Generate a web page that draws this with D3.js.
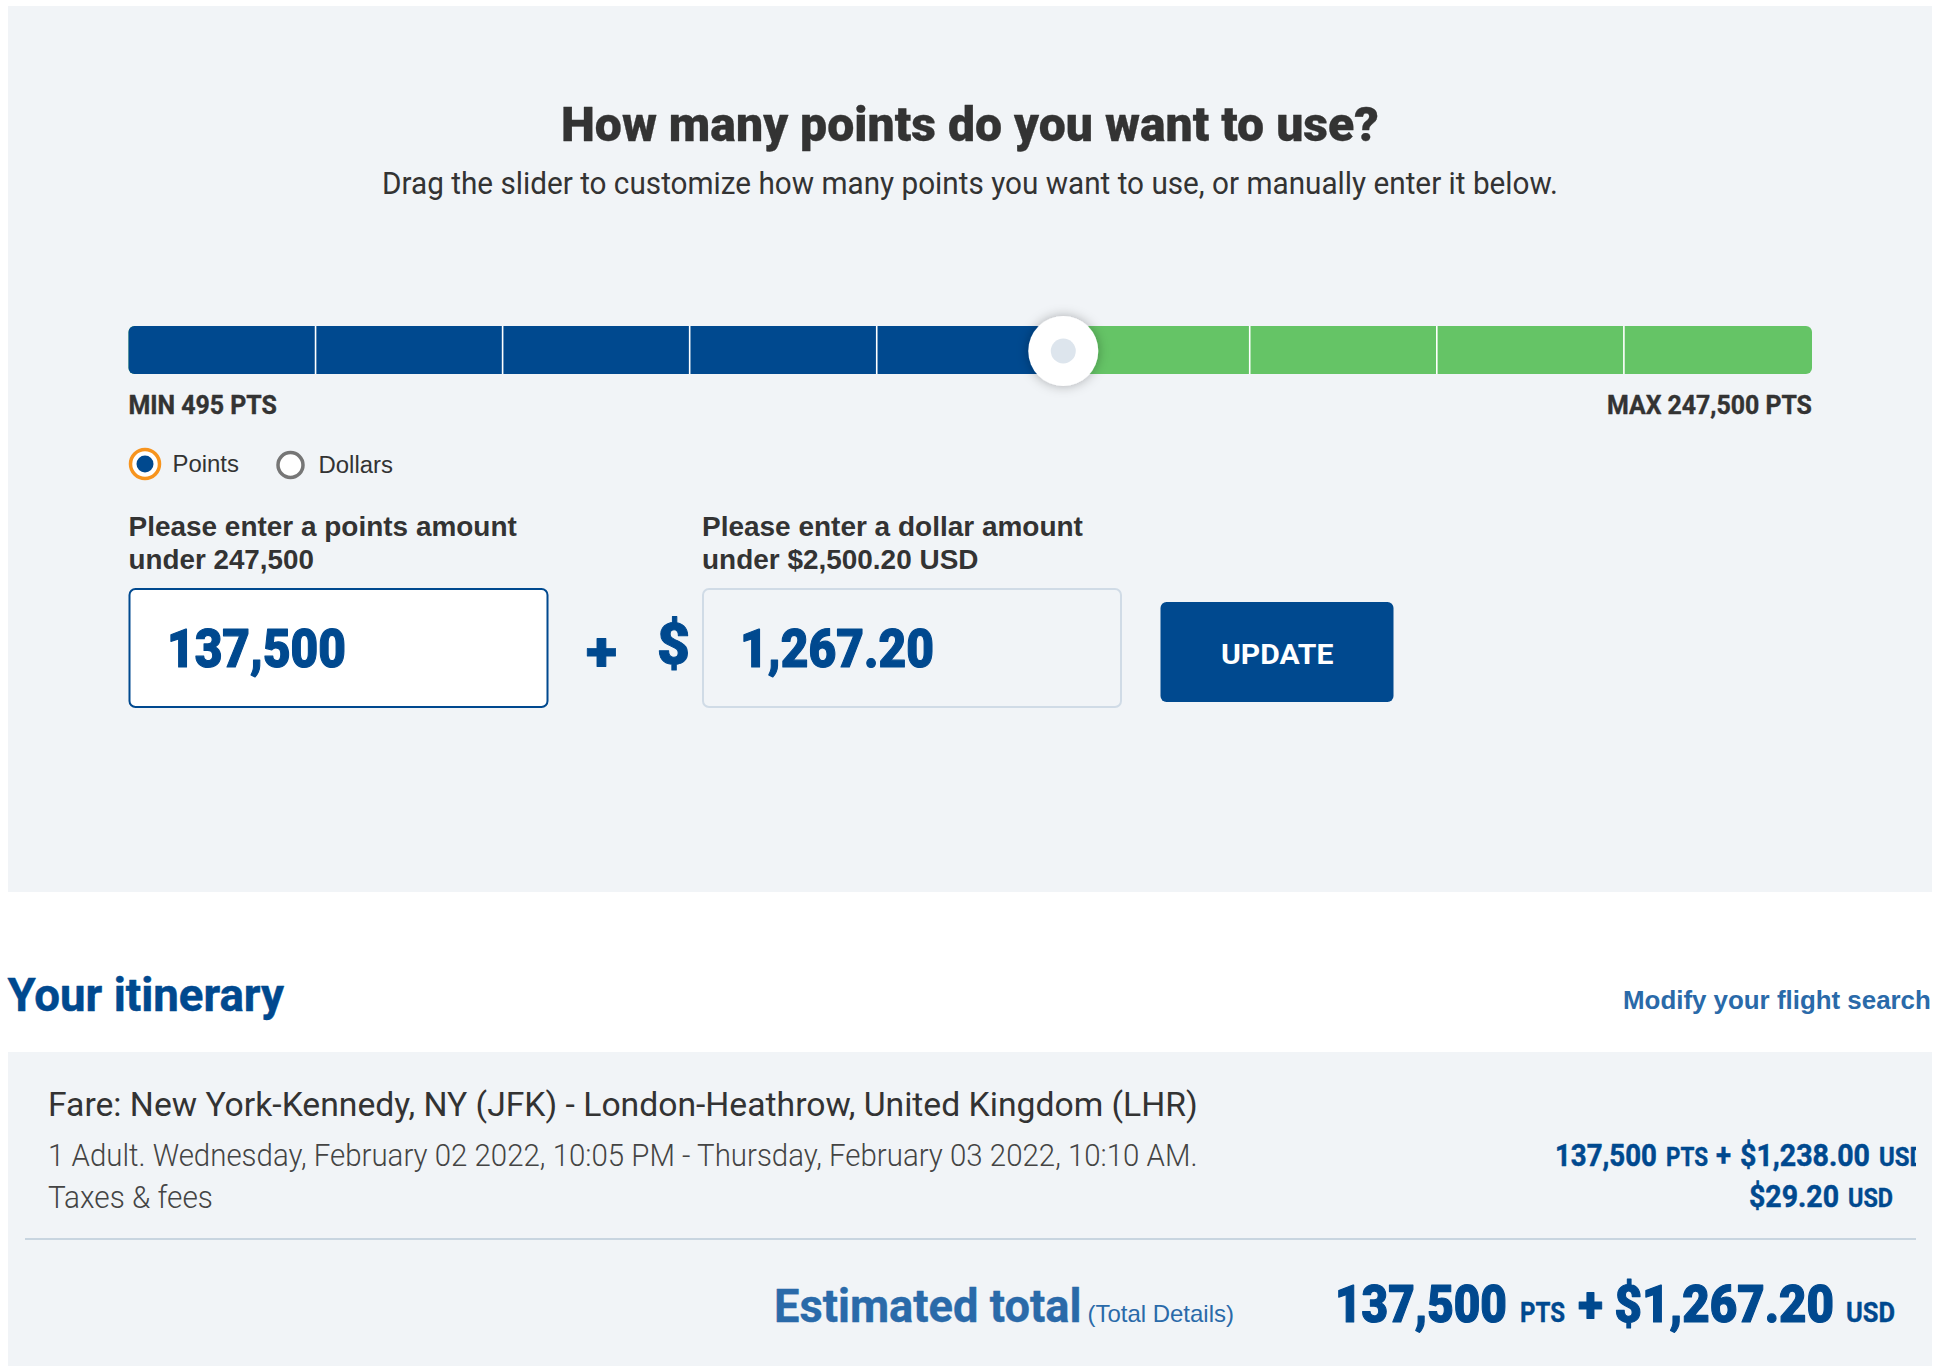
<!DOCTYPE html>
<html><head><meta charset="utf-8">
<script src="https://cdn.jsdelivr.net/npm/d3@7"></script>
<style>html,body{margin:0;padding:0;background:#fff}svg{display:block}</style></head>
<body><div id="c"></div>
<script>
const minPoints = 495;
const maxPoints = 247500;
const selectedPoints = 137500;
const sliderTicks = [27940, 55385, 82830, 110275, 165000, 192450, 219900];
const heading = ["How many points do you want to use?", "Drag the slider to customize how many points you want to use, or manually enter it below."];
const rangeLabels = ["MIN 495 PTS", "MAX 247,500 PTS"];
const radioLabels = ["Points", "Dollars"];
const pointsPrompt = ["Please enter a points amount", "under 247,500"];
const dollarPrompt = ["Please enter a dollar amount", "under $2,500.20 USD"];
const inputValues = ["137,500", "1,267.20"];
const itinerary = ["Your itinerary", "Modify your flight search"];
const fareLines = ["Fare: New York-Kennedy, NY (JFK) - London-Heathrow, United Kingdom (LHR)",
  "1 Adult. Wednesday, February 02 2022, 10:05 PM - Thursday, February 03 2022, 10:10 AM.",
  "Taxes & fees"];

const BLUE="#00498f", GREEN="#65c466", PANEL="#f1f4f7", DARK="#333333", LINK="#2a6aa9", DIN="Roboto", ARIAL="'Liberation Sans'";
const svg=d3.select("#c").append("svg").attr("width",1938).attr("height",1372);
const defs=svg.append("defs");
const f=defs.append("filter").attr("id","sh").attr("x","-50%").attr("y","-50%").attr("width","200%").attr("height","200%");
f.append("feDropShadow").attr("dx",0).attr("dy",0).attr("stdDeviation",6).attr("flood-color","#000").attr("flood-opacity",0.3);
defs.append("clipPath").attr("id","rowclip").append("rect").attr("x",0).attr("y",1100).attr("width",1916).attr("height",120);

function T(s,x0,x1,y,size,weight,fam,fill,heavy,parent){
  const t=(parent||svg).append("text").text(s)
    .attr("font-size",size).attr("font-weight",weight).attr("font-family",fam).attr("fill",fill);
  if(heavy) t.attr("stroke",fill).attr("stroke-width",heavy).attr("stroke-linejoin","round");
  const w=t.node().getComputedTextLength();
  t.attr("transform",`translate(${x0},${y}) scale(${(x1-x0)/w},1)`);
  return t;
}
function R(x,y,w,h,fill,stroke,sw,rx){
  return svg.append("rect").attr("x",x).attr("y",y).attr("width",w).attr("height",h).attr("fill",fill)
    .attr("stroke",stroke||"none").attr("stroke-width",sw||0).attr("rx",rx||0);
}
R(8,6,1924,886,PANEL);
R(8,1052,1924,314,PANEL);

T(heading[0],561,1379,141,49,900,DIN,DARK,0.3);
T(heading[1],382,1558,194,31,400,DIN,DARK);

// slider
const x=d3.scaleLinear().domain([minPoints,maxPoints]).range([128.5,1812]);
const by=326,bh=48,hx=x(selectedPoints)+1;
R(x(minPoints),by,x(maxPoints)-x(minPoints),bh,GREEN,null,0,6);
R(x(minPoints),by,x(selectedPoints)-x(minPoints),bh,BLUE,null,0,6);
svg.append("g").selectAll("line").data(sliderTicks).join("line")
  .attr("x1",d=>x(d)).attr("x2",d=>x(d)).attr("y1",by).attr("y2",by+bh)
  .attr("stroke","#fff").attr("stroke-width",1.6);
svg.append("circle").attr("cx",hx).attr("cy",351).attr("r",35).attr("fill","#fff").attr("filter","url(#sh)");
svg.append("circle").attr("cx",hx).attr("cy",351).attr("r",12.5).attr("fill","#dde5ed");

T(rangeLabels[0],128.5,277,414,26,700,DIN,DARK,0.4);
T(rangeLabels[1],1607,1812,414,26,700,DIN,DARK,0.4);

// radios
svg.append("circle").attr("cx",145).attr("cy",464).attr("r",14.5).attr("fill","#fff").attr("stroke","#f7941e").attr("stroke-width",3.5);
svg.append("circle").attr("cx",145).attr("cy",464).attr("r",8.5).attr("fill",BLUE);
svg.append("circle").attr("cx",290.5).attr("cy",465).attr("r",12.5).attr("fill","#fff").attr("stroke","#767676").attr("stroke-width",3.5);
T(radioLabels[0],172.5,239,472,24,400,ARIAL,DARK);
T(radioLabels[1],318.5,393,473,24,400,ARIAL,DARK);

T(pointsPrompt[0],128.5,517,536,28,700,ARIAL,DARK);
T(pointsPrompt[1],128.5,314,569,28,700,ARIAL,DARK);
T(dollarPrompt[0],702,1083,536,28,700,ARIAL,DARK);
T(dollarPrompt[1],702,978.5,569,28,700,ARIAL,DARK);

R(129.5,589,418,118,"#fff",BLUE,2,6);
R(703,589,418,118,PANEL,"#d0dbe6",2,6);
T(inputValues[0],167,346,667,54,900,DIN,BLUE,1.2);
T(inputValues[1],740,934,667,54,900,DIN,BLUE,1.2);
T("+",586,617,670,54,900,DIN,BLUE,0.8);
T("$",657,690,664,58,900,DIN,BLUE,1);
R(1160.5,602,233,100,BLUE,null,0,6);
T("UPDATE",1221,1333.5,664,27,700,DIN,"#fff");

T(itinerary[0],7.5,284,1011,46,700,DIN,BLUE,0.5);
T(itinerary[1],1623,1931,1008.5,26,700,ARIAL,LINK);

T(fareLines[0],48,1198,1115.5,33,400,DIN,DARK);
T(fareLines[1],48,1198,1166,31,300,DIN,"#444");
T(fareLines[2],48,213,1208,31,300,DIN,"#444");

const row=svg.append("g").attr("clip-path","url(#rowclip)");
T("137,500",1555,1657,1166,31,700,DIN,BLUE,0.5,row);
T("PTS",1666,1708,1166,25,700,DIN,BLUE,0.4,row);
T("+",1716,1731,1166,31,700,DIN,BLUE,0.5,row);
T("$1,238.00",1740,1870,1166,31,700,DIN,BLUE,0.5,row);
T("USD",1879,1925,1166,25,700,DIN,BLUE,0.4,row);
T("$29.20",1749,1839,1207,31,700,DIN,BLUE,0.5);
T("USD",1848,1893,1207,25,700,DIN,BLUE,0.4);

R(25,1238,1891,2,"#c8d5e0");

T("Estimated total",774,1081.5,1322,46,700,DIN,LINK,0.4);
T("(Total Details)",1087.5,1234,1322,24,400,ARIAL,LINK);
T("137,500",1335,1507,1322,52,900,DIN,BLUE,1.2);
T("PTS",1520,1565,1322,28,700,DIN,BLUE,0.4);
T("+",1578,1603,1322,50,900,DIN,BLUE,0.8);
T("$1,267.20",1614.5,1834,1322,52,900,DIN,BLUE,1.2);
T("USD",1846,1895,1322,28,700,DIN,BLUE,0.4);
</script></body></html>
